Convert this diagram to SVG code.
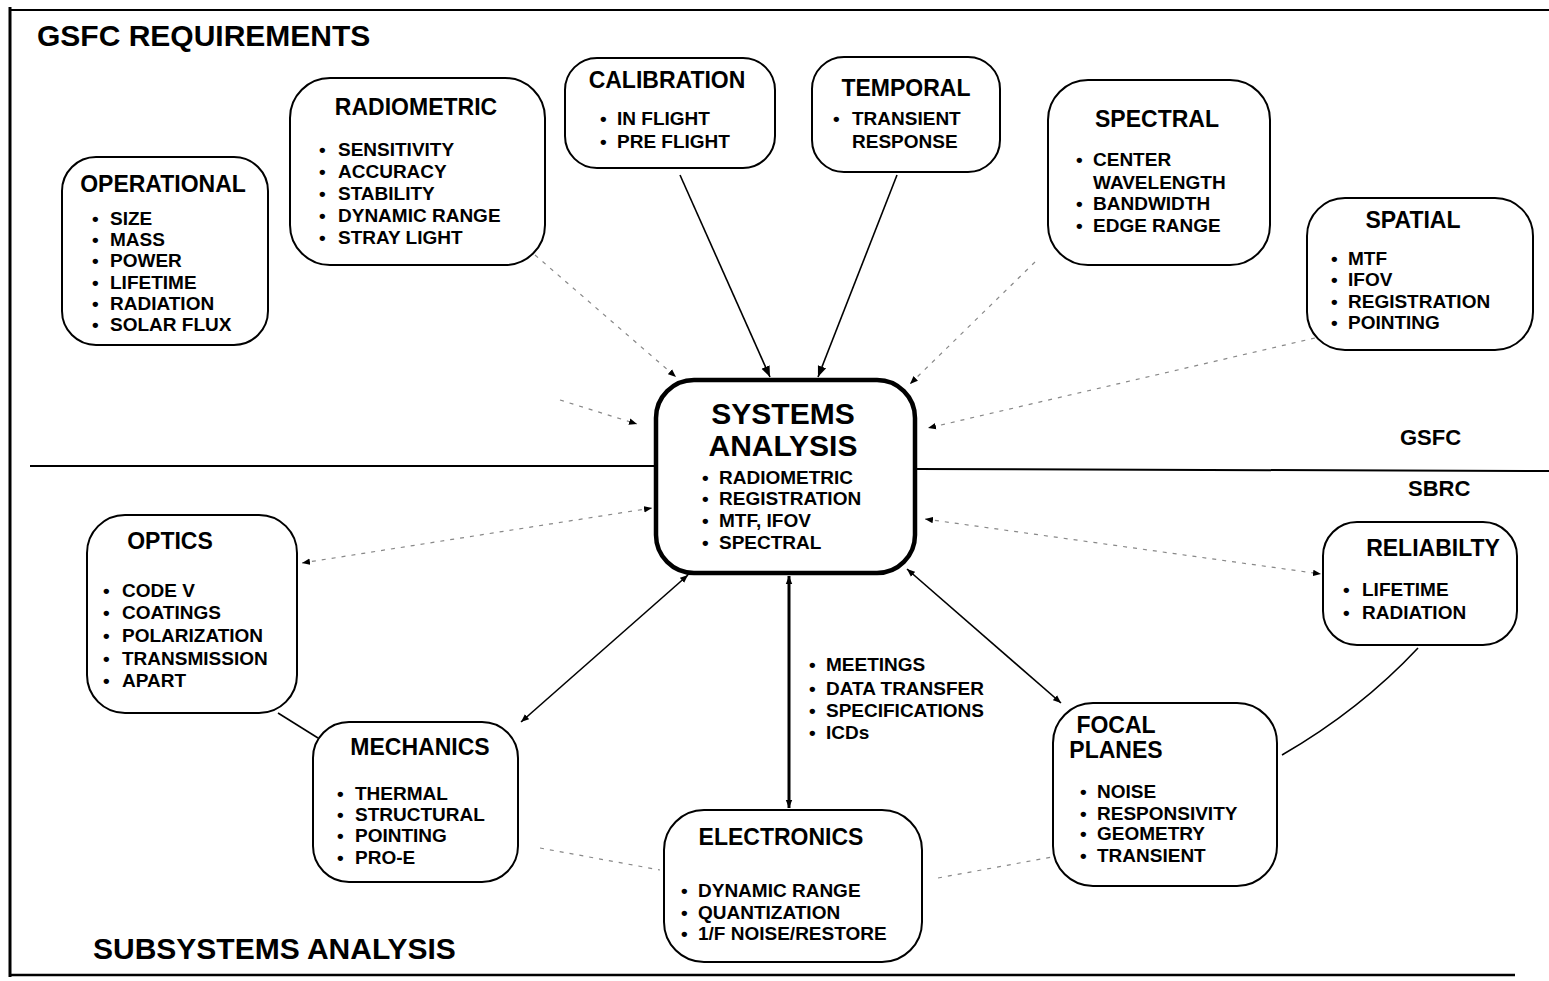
<svg xmlns="http://www.w3.org/2000/svg" width="1549" height="981" viewBox="0 0 1549 981">
<defs>
<style>
text{font-family:"Liberation Sans",Arial,sans-serif;font-weight:bold;fill:#000}
.t{font-size:23px;text-anchor:middle}
.i{font-size:19px}
.h{font-size:30px}
.box{fill:#fff;stroke:#000;stroke-width:2}
.sys{fill:#fff;stroke:#000;stroke-width:4.5}
.s{fill:none;stroke:#000;stroke-width:1.6}
.f{fill:none;stroke:#888;stroke-width:1.2;stroke-dasharray:4 6}
</style>
<marker id="a" viewBox="0 0 10 10" refX="10" refY="5" markerWidth="8" markerHeight="8" markerUnits="userSpaceOnUse" orient="auto-start-reverse"><path d="M0,1 L10,5 L0,9 Z" fill="#000"/></marker>
<marker id="ab" viewBox="0 0 10 10" refX="10" refY="5" markerWidth="11" markerHeight="11" markerUnits="userSpaceOnUse" orient="auto-start-reverse"><path d="M0,1 L10,5 L0,9 Z" fill="#000"/></marker>
</defs>
<rect width="1549" height="981" fill="#fff"/>
<g id="frame">
<line x1="10" y1="7" x2="10" y2="977" stroke="#000" stroke-width="3"/>
<line x1="10" y1="10" x2="1549" y2="10" stroke="#000" stroke-width="2"/>
<line x1="10" y1="975" x2="1515" y2="975" stroke="#000" stroke-width="2.5"/>
<line x1="30" y1="466" x2="656" y2="466" stroke="#000" stroke-width="2"/>
<line x1="915" y1="469" x2="1549" y2="471" stroke="#000" stroke-width="2"/>
<text class="h" x="37" y="46">GSFC REQUIREMENTS</text>
<text x="1400" y="445" font-size="22">GSFC</text>
<text x="1408" y="496" font-size="22">SBRC</text>
<text class="h" x="93" y="959">SUBSYSTEMS ANALYSIS</text>
</g>
<g id="connectors">
<line class="s" x1="680" y1="175" x2="770" y2="377" marker-end="url(#ab)"/>
<line class="s" x1="897" y1="175" x2="818" y2="377" marker-end="url(#ab)"/>
<line class="f" x1="535" y1="255" x2="676" y2="377" marker-end="url(#a)"/>
<line class="f" x1="1035" y1="262" x2="910" y2="384" marker-end="url(#a)"/>
<line class="f" x1="1315" y1="338" x2="928" y2="428" marker-end="url(#a)"/>
<line class="f" x1="560" y1="400" x2="637" y2="424" marker-end="url(#a)"/>
<line class="f" x1="302" y1="563" x2="652" y2="508" marker-start="url(#a)" marker-end="url(#a)"/>
<line class="f" x1="925" y1="519" x2="1321" y2="574" marker-start="url(#a)" marker-end="url(#a)"/>
<line class="s" x1="688" y1="575" x2="521" y2="722" marker-start="url(#a)" marker-end="url(#a)"/>
<line x1="789" y1="576" x2="789" y2="808" stroke="#000" stroke-width="3" marker-start="url(#a)" marker-end="url(#a)"/>
<line class="s" x1="907" y1="569" x2="1061" y2="703" marker-start="url(#a)" marker-end="url(#a)"/>
<line class="s" x1="278" y1="713" x2="318" y2="738"/>
<path class="s" d="M1418,648 Q1360,710 1282,755"/>
<line class="f" x1="540" y1="848" x2="660" y2="870"/>
<line class="f" x1="938" y1="878" x2="1052" y2="857"/>
</g>
<g id="operational">
<rect class="box" x="62" y="157" width="206" height="188" rx="34"/>
<text class="t" x="163" y="192">OPERATIONAL</text>
<text class="i"><tspan x="92" y="225">•</tspan><tspan x="110">SIZE</tspan></text>
<text class="i"><tspan x="92" y="246">•</tspan><tspan x="110">MASS</tspan></text>
<text class="i"><tspan x="92" y="267">•</tspan><tspan x="110">POWER</tspan></text>
<text class="i"><tspan x="92" y="289">•</tspan><tspan x="110">LIFETIME</tspan></text>
<text class="i"><tspan x="92" y="310">•</tspan><tspan x="110">RADIATION</tspan></text>
<text class="i"><tspan x="92" y="331">•</tspan><tspan x="110">SOLAR FLUX</tspan></text>
</g>
<g id="radiometric">
<rect class="box" x="290" y="78" width="255" height="187" rx="40"/>
<text class="t" x="416" y="115">RADIOMETRIC</text>
<text class="i"><tspan x="319" y="156">•</tspan><tspan x="338">SENSITIVITY</tspan></text>
<text class="i"><tspan x="319" y="178">•</tspan><tspan x="338">ACCURACY</tspan></text>
<text class="i"><tspan x="319" y="200">•</tspan><tspan x="338">STABILITY</tspan></text>
<text class="i"><tspan x="319" y="222">•</tspan><tspan x="338">DYNAMIC RANGE</tspan></text>
<text class="i"><tspan x="319" y="244">•</tspan><tspan x="338">STRAY LIGHT</tspan></text>
</g>
<g id="calibration">
<rect class="box" x="565" y="58" width="210" height="110" rx="32"/>
<text class="t" x="667" y="88">CALIBRATION</text>
<text class="i"><tspan x="600" y="125">•</tspan><tspan x="617">IN FLIGHT</tspan></text>
<text class="i"><tspan x="600" y="148">•</tspan><tspan x="617">PRE FLIGHT</tspan></text>
</g>
<g id="temporal">
<rect class="box" x="812" y="57" width="188" height="115" rx="32"/>
<text class="t" x="906" y="96">TEMPORAL</text>
<text class="i"><tspan x="833" y="125">•</tspan><tspan x="852">TRANSIENT</tspan></text>
<text class="i" x="852" y="148">RESPONSE</text>
</g>
<g id="spectral">
<rect class="box" x="1048" y="80" width="222" height="185" rx="40"/>
<text class="t" x="1157" y="127">SPECTRAL</text>
<text class="i"><tspan x="1076" y="166">•</tspan><tspan x="1093">CENTER</tspan></text>
<text class="i" x="1093" y="189">WAVELENGTH</text>
<text class="i"><tspan x="1076" y="210">•</tspan><tspan x="1093">BANDWIDTH</tspan></text>
<text class="i"><tspan x="1076" y="232">•</tspan><tspan x="1093">EDGE RANGE</tspan></text>
</g>
<g id="spatial">
<rect class="box" x="1307" y="198" width="226" height="152" rx="38"/>
<text class="t" x="1413" y="228">SPATIAL</text>
<text class="i"><tspan x="1331" y="265">•</tspan><tspan x="1348">MTF</tspan></text>
<text class="i"><tspan x="1331" y="286">•</tspan><tspan x="1348">IFOV</tspan></text>
<text class="i"><tspan x="1331" y="308">•</tspan><tspan x="1348">REGISTRATION</tspan></text>
<text class="i"><tspan x="1331" y="329">•</tspan><tspan x="1348">POINTING</tspan></text>
</g>
<g id="systems-analysis">
<rect class="sys" x="656" y="380" width="259" height="193" rx="38"/>
<text class="h" x="783" y="424" text-anchor="middle">SYSTEMS</text>
<text class="h" x="783" y="456" text-anchor="middle">ANALYSIS</text>
<text class="i" font-size="20"><tspan x="702" y="484">•</tspan><tspan x="719">RADIOMETRIC</tspan></text>
<text class="i" font-size="20"><tspan x="702" y="505">•</tspan><tspan x="719">REGISTRATION</tspan></text>
<text class="i" font-size="20"><tspan x="702" y="527">•</tspan><tspan x="719">MTF, IFOV</tspan></text>
<text class="i" font-size="20"><tspan x="702" y="549">•</tspan><tspan x="719">SPECTRAL</tspan></text>
</g>
<g id="interface-label">
<text class="i" font-size="20"><tspan x="809" y="671">•</tspan><tspan x="826">MEETINGS</tspan></text>
<text class="i" font-size="20"><tspan x="809" y="695">•</tspan><tspan x="826">DATA TRANSFER</tspan></text>
<text class="i" font-size="20"><tspan x="809" y="717">•</tspan><tspan x="826">SPECIFICATIONS</tspan></text>
<text class="i" font-size="20"><tspan x="809" y="739">•</tspan><tspan x="826">ICDs</tspan></text>
</g>
<g id="optics">
<rect class="box" x="87" y="515" width="210" height="198" rx="38"/>
<text class="t" x="170" y="549">OPTICS</text>
<text class="i"><tspan x="103" y="597">•</tspan><tspan x="122">CODE V</tspan></text>
<text class="i"><tspan x="103" y="619">•</tspan><tspan x="122">COATINGS</tspan></text>
<text class="i"><tspan x="103" y="642">•</tspan><tspan x="122">POLARIZATION</tspan></text>
<text class="i"><tspan x="103" y="665">•</tspan><tspan x="122">TRANSMISSION</tspan></text>
<text class="i"><tspan x="103" y="687">•</tspan><tspan x="122">APART</tspan></text>
</g>
<g id="mechanics">
<rect class="box" x="313" y="722" width="205" height="160" rx="36"/>
<text class="t" x="420" y="755">MECHANICS</text>
<text class="i"><tspan x="337" y="800">•</tspan><tspan x="355">THERMAL</tspan></text>
<text class="i"><tspan x="337" y="821">•</tspan><tspan x="355">STRUCTURAL</tspan></text>
<text class="i"><tspan x="337" y="842">•</tspan><tspan x="355">POINTING</tspan></text>
<text class="i"><tspan x="337" y="864">•</tspan><tspan x="355">PRO-E</tspan></text>
</g>
<g id="electronics">
<rect class="box" x="664" y="810" width="258" height="152" rx="40"/>
<text class="t" x="781" y="845">ELECTRONICS</text>
<text class="i"><tspan x="681" y="897">•</tspan><tspan x="698">DYNAMIC RANGE</tspan></text>
<text class="i"><tspan x="681" y="919">•</tspan><tspan x="698">QUANTIZATION</tspan></text>
<text class="i"><tspan x="681" y="940">•</tspan><tspan x="698">1/F NOISE/RESTORE</tspan></text>
</g>
<g id="focal-planes">
<rect class="box" x="1053" y="703" width="224" height="183" rx="40"/>
<text class="t" x="1116" y="733" text-anchor="start">FOCAL</text>
<text class="t" x="1116" y="758" text-anchor="start">PLANES</text>
<text class="i"><tspan x="1080" y="798">•</tspan><tspan x="1097">NOISE</tspan></text>
<text class="i"><tspan x="1080" y="820">•</tspan><tspan x="1097">RESPONSIVITY</tspan></text>
<text class="i"><tspan x="1080" y="840">•</tspan><tspan x="1097">GEOMETRY</tspan></text>
<text class="i"><tspan x="1080" y="862">•</tspan><tspan x="1097">TRANSIENT</tspan></text>
</g>
<g id="reliability">
<rect class="box" x="1323" y="522" width="194" height="123" rx="34"/>
<text class="t" x="1433" y="556">RELIABILTY</text>
<text class="i"><tspan x="1343" y="596">•</tspan><tspan x="1362">LIFETIME</tspan></text>
<text class="i"><tspan x="1343" y="619">•</tspan><tspan x="1362">RADIATION</tspan></text>
</g>
</svg>
